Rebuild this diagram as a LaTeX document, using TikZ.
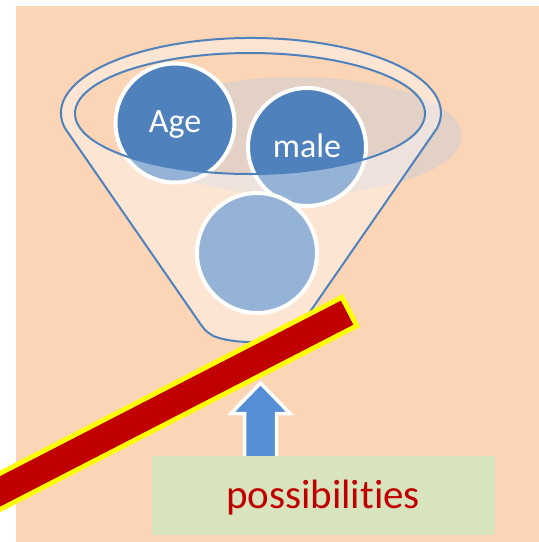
\documentclass[tikz,border=0pt]{standalone}
\usepackage{fontspec}
\setmainfont{Carlito}[Ligatures=NoCommon]
\begin{document}
\begin{tikzpicture}[x=1pt,y=-1pt,
  bluec/.style={circle,draw=white,line width=4pt,fill=ballblue,inner sep=0pt},
  rimline/.style={draw=rimblue,line width=2pt},
  lbl/.style={text=white,font=\fontsize{34}{34}\selectfont,anchor=base,inner sep=0pt}]
\definecolor{peach}{HTML}{FBD5B5}
\definecolor{shadowc}{HTML}{E3D1C5}
\definecolor{ballblue}{HTML}{4F81BD}
\definecolor{rimblue}{HTML}{4F81BD}
\definecolor{arrowblue}{HTML}{558ED5}
\definecolor{boxgreen}{HTML}{D7E4BD}
\definecolor{barred}{HTML}{C00000}
\definecolor{baryellow}{HTML}{FFFF00}
\useasboundingbox (0,0) rectangle (539,542);
\clip (0,0) rectangle (539,542);
% background
\fill[peach] (16,6) rectangle (539,542);
% shadow of the funnel
\fill[shadowc] (296,136) ellipse[x radius=166, y radius=59];
% balls
\node[bluec,minimum size=119pt] (age) at (175,123) {};
\node[bluec,minimum size=118pt] (male) at (307,147) {};
\node[bluec,minimum size=120pt] (third) at (257,253) {};
% funnel body, translucent, with the mouth open
\fill[white,fill opacity=0.4,even odd rule]
  (65.0,128.3) arc[start angle=168.2,end angle=371.8,x radius=190,y radius=75]
  -- (305,319) .. controls (296.7,331) .. (290,336)
  arc[start angle=40,end angle=140,x radius=50,y radius=17]
  .. controls (205.3,331) .. (197,319) -- cycle
  (250,113.5) ellipse[x radius=175,y radius=60.5];
\draw[rimline,line join=round]
  (65.0,128.3) arc[start angle=168.2,end angle=371.8,x radius=190,y radius=75]
  -- (305,319) .. controls (296.7,331) .. (290,336)
  arc[start angle=40,end angle=140,x radius=50,y radius=17]
  .. controls (205.3,331) .. (197,319) -- cycle;
\draw[rimline] (250,113.5) ellipse[x radius=175,y radius=60.5];
% labels
\node[lbl] (agetxt) at (175,132) {Age};
\node[lbl] (maletxt) at (307,157) {male};
% arrow
\coordinate (arrtip) at (260.5,383);
\filldraw[fill=arrowblue,draw=white,line width=3.5pt,line join=miter]
  (244.5,458) -- (244.5,413.5) -- (231,413.5) -- (arrtip) -- (290,413.5)
  -- (276.5,413.5) -- (276.5,458) -- cycle;
% box
\node[fill=boxgreen,minimum width=343pt,minimum height=79pt,inner sep=0pt,anchor=north west] (box) at (152,456) {};
\node[text=barred,font=\fontsize{41}{41}\selectfont,anchor=base,inner sep=0pt] (poss) at (323,508) {possibilities};
% red bar
\coordinate (barA) at (351.5,310.4);
\coordinate (barA2) at (347.1,312.7);
\coordinate (barB) at (-40,512);
\draw[baryellow,line width=37pt,line cap=butt] (barA) -- (barB);
\draw[barred,line width=27pt,line cap=butt] (barA2) -- (barB);
\end{tikzpicture}
\end{document}
